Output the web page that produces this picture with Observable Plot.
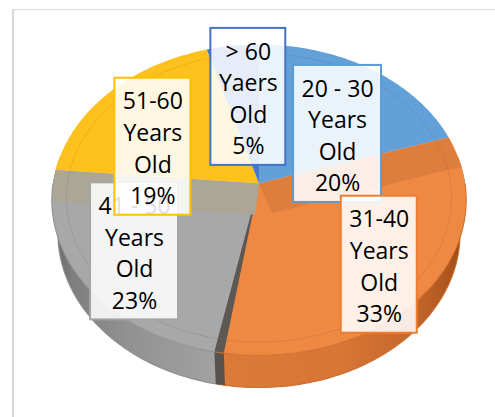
<!DOCTYPE html>
<html><head><meta charset="utf-8">
<script src="https://cdn.jsdelivr.net/npm/d3@7"></script>
<script src="https://cdn.jsdelivr.net/npm/@observablehq/plot@0.6"></script>
<style>
html,body{margin:0;padding:0;background:#fff;}
#wrap{position:relative;width:495px;height:417px;overflow:hidden;}
#frame{position:absolute;left:12px;top:9px;width:600px;height:600px;border-left:2px solid #d9d9d9;border-top:1.5px solid #d9d9d9;}
#chart{position:absolute;left:0;top:0;}
g[aria-label="label box"]{filter:drop-shadow(1.5px 2px 2.5px rgba(0,0,0,0.25));}
</style></head><body>
<div id="wrap"><div id="frame"></div><div id="chart"></div></div>
<script>
// ---- data ----
const categories = ["20 - 30 Years Old", "31-40 Years Old", "41 - 50 Years Old", "51-60 Years Old", "> 60 Yaers Old"];
const shares = [20, 33, 23.4, 19.1, 4.5];   // % (slice sizes)

// ---- styles / layout ----
const borderColors = ["#5B9BD5", "#ED7D31", "#A5A5A5", "#FFC000", "#4472C4"];
const topColors = ["#64a0d8", "#ee8843", "#a8a8a8", "#fcc11c", "#4a78c8"];
const wallFills = ["#4f86bd", "url(#gOrange)", "url(#gGray)", "#c89800", "#3a64ad"];
const labelNudge = [[4, 27], [15, 12], [-13, 5], [-7, 24], [7, 6]]; // px right, px down
const FONT = "'Open Sans', Lato, sans-serif", FS = 23, LH = 1.374;
const W = 495, H = 417, CX = 258.5, CY = 183;
const cam = {D: 6.29, F: 1296, s: 0.746, c: 0.666, h: 0.254};

function proj(X, Z, Y = 0) {
  const d = cam.D + cam.c * Z - cam.s * Y;
  return [cam.F * X / d, cam.F * (cam.c * Y + cam.s * Z) / d];
}
const rad = a => a * Math.PI / 180;
function pt(a, r, Y = 0) { const [x, y] = proj(r * Math.sin(rad(a)), r * Math.cos(rad(a)), Y); return {x, y}; }
function arc(a, b, r, Y = 0) {
  const n = Math.max(2, Math.ceil(Math.abs(b - a)) + 1);
  return d3.range(n).map(k => pt(a + (b - a) * k / (n - 1), r, Y));
}
const center = pt(0, 0);

const total = d3.sum(shares);
const a0s = [], a1s = [];
{ let acc = 0; shares.forEach(v => { a0s.push(acc / total * 360); acc += v; a1s.push(acc / total * 360); }); }

const poly = (pts, fill, extra = {}) => Plot.line(pts, {x: "x", y: "y", fill, stroke: "none", curve: "linear", ...extra});
const path = (pts, stroke, sw = 1, op = 1) => Plot.line(pts, {x: "x", y: "y", stroke, strokeWidth: sw, strokeOpacity: op, fill: "none", curve: "linear"});

const marks = [];
// gradients
marks.push(() => {
  const g = d3.create("svg:defs");
  const o = g.append("linearGradient").attr("id", "gOrange").attr("x1", 0).attr("x2", 1).attr("y1", 0).attr("y2", 0);
  [[0, "#dc7a3a"], [0.5, "#d97636"], [0.8, "#c4662a"], [0.93, "#ad561e"], [1, "#944817"]].forEach(([k, c]) => o.append("stop").attr("offset", k).attr("stop-color", c));
  const gr = g.append("linearGradient").attr("id", "gGray").attr("x1", 0).attr("x2", 1).attr("y1", 0).attr("y2", 0);
  [[0, "#666666"], [0.12, "#7e7e7e"], [0.45, "#919191"], [1, "#a2a2a2"]].forEach(([k, c]) => gr.append("stop").attr("offset", k).attr("stop-color", c));
  return g.node();
});

// walls (front part)
shares.forEach((v, i) => {
  const lo = Math.max(a0s[i], 80), hi = Math.min(a1s[i], 280);
  if (lo < hi) {
    const pts = arc(lo, hi, 1, 0).concat(arc(hi, lo, 1, -cam.h));
    marks.push(poly(pts, wallFills[i]));
    marks.push(path(arc(Math.max(lo, 90), Math.min(hi, 270), 1, -cam.h), d3.color(borderColors[i]).darker(0.5).formatHex(), 1.2, 0.9));
  }
});
// top faces
shares.forEach((v, i) => {
  marks.push(poly([center, ...arc(a0s[i], a1s[i], 1), center], topColors[i]));
});
// bevel bands along back-facing boundaries, dark groove along front boundary
a0s.forEach((theta, i) => {
  if (i === 0) return;
  const off = Math.abs(theta - 180);
  if (off > 30 && off < 150) {
    const front = theta < 180 ? i : i - 1;
    const nAng = theta < 180 ? theta + 90 : theta - 90;
    const w = 0.2;
    const e = [Math.sin(rad(theta)), Math.cos(rad(theta))], n = [Math.sin(rad(nAng)), Math.cos(rad(nAng))];
    const k = Math.sqrt(1 - w * w);
    const P = (X, Z) => { const [x, y] = proj(X, Z); return {x, y}; };
    const bandCol = front === 2 ? "#aca696" : d3.color(topColors[front]).darker(0.22).formatHex();
    marks.push(poly([P(0, 0), P(e[0], e[1]), P(k * e[0] + w * n[0], k * e[1] + w * n[1]), P(w * n[0], w * n[1]), P(0, 0)], bandCol));
  } else if (off <= 30) {
    const lo = theta - 2.0, hi = theta + 0.4;
    marks.push(poly([center, ...arc(lo, hi, 1), center], "#5d5853"));
    marks.push(poly(arc(lo, hi, 1, 0).concat(arc(hi, lo, 1, -cam.h)), "#57524d"));
  }
});
// inner bevel ring
shares.forEach((v, i) => {
  marks.push(path(arc(a0s[i], a1s[i], 0.93), d3.color(topColors[i]).darker(0.8).formatHex(), 1, 0.3));
});
// top rim edge over the front wall
shares.forEach((v, i) => {
  const lo = Math.max(a0s[i], 90), hi = Math.min(a1s[i], 270);
  if (lo < hi) marks.push(path(arc(lo, hi, 1, 0), d3.color(borderColors[i]).darker(0.4).formatHex(), 1.1, 0.8));
});

// labels
const ctx = document.createElement("canvas").getContext("2d");
ctx.font = `${FS}px ${FONT}`;
const labelData = categories.map((cat, i) => {
  const m = (a0s[i] + a1s[i]) / 2;
  const b = pt(m, 0.65);
  const cx = b.x + labelNudge[i][0], cy = b.y - labelNudge[i][1];
  const lines = cat.replace(/ (Y\w+) (Old)$/, "\n$1\n$2").split("\n").concat(`${Math.round(shares[i] / total * 100)}%`);
  const tw = d3.max(lines, l => ctx.measureText(l).width);
  const bw = tw + 16, bh = 137;
  return {i, text: lines.join("\n"), cx, cy, x1: cx - bw / 2, x2: cx + bw / 2, y1: cy - bh / 2, y2: cy + bh / 2, color: borderColors[i]};
});
labelData.forEach(d => {
  marks.push(Plot.rect([d], {x1: "x1", x2: "x2", y1: "y1", y2: "y2", fill: "#ffffff", fillOpacity: 0.87, stroke: d.color, strokeWidth: 2, ariaLabel: "label box"}));
  marks.push(Plot.text([d], {x: "cx", y: "cy", text: "text", fill: "#000000", fontSize: FS, fontFamily: FONT, lineHeight: LH, lineAnchor: "middle", textAnchor: "middle"}));
});

const chart = Plot.plot({
  width: W, height: H, margin: 0,
  x: {domain: [-CX, W - CX], axis: null},
  y: {domain: [CY - H, CY], axis: null},
  style: {background: "transparent"},
  marks
});
document.getElementById("chart").append(chart);
</script>
</body></html>
